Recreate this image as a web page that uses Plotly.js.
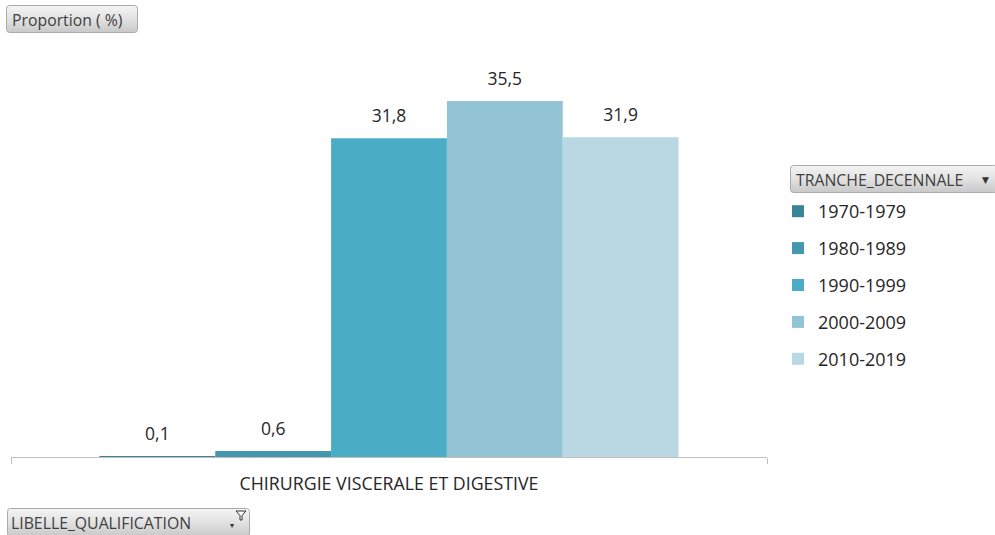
<!DOCTYPE html>
<html>
<head>
<meta charset="utf-8">
<script src="https://cdn.plot.ly/plotly-3.0.1.min.js"></script>
<style>html,body{margin:0;padding:0;background:#fff;}#chart{width:995px;height:535px;}</style>
</head>
<body>
<div id="chart"></div>
<script>
// ---- data ----
const categories = ["CHIRURGIE VISCERALE ET DIGESTIVE"];
const seriesNames = ["1970-1979", "1980-1989", "1990-1999", "2000-2009", "2010-2019"];
const v1970 = [0.1];
const v1980 = [0.6];
const v1990 = [31.8];
const v2000 = [35.5];
const v2010 = [31.9];
const seriesValues = [v1970, v1980, v1990, v2000, v2010];
const seriesColors = ["#3A8499", "#4398AF", "#4BACC6", "#93C4D6", "#B9D8E4"];
const yTitleButton = "Proportion ( %)";
const legendButton = "TRANCHE_DECENNALE";
const axisButton = "LIBELLE_QUALIFICATION";

// ---- layout geometry ----
const W = 995, H = 535, ML = 11, MR = 228, MT = 56, MB = 78;
const PW = W - ML - MR, PH = H - MT - MB;
const px = x => (x - ML) / PW;
const py = y => (H - MB - y) / PH;
const FONT = "Open Sans, Liberation Sans, sans-serif";
const LABEL_GAP = 0.8; // visual spacing between bar top and its value label (axis units)

const barTraces = seriesNames.map((name, i) => ({
  type: "bar",
  name: name,
  x: categories,
  y: seriesValues[i],
  offsetgroup: "s" + i,
  marker: {color: seriesColors[i], line: {width: 0}},
  legendgroup: "g" + i,
  hoverinfo: "skip"
}));
// transparent carriers that place the value labels a little above each bar
const labelTraces = seriesNames.map((name, i) => ({
  type: "bar",
  name: name + " label",
  x: categories,
  base: seriesValues[i],
  y: seriesValues[i].map(() => LABEL_GAP),
  customdata: seriesValues[i],
  offsetgroup: "s" + i,
  marker: {color: "rgba(0,0,0,0)", line: {width: 0}},
  texttemplate: "%{customdata:.1f}",
  textposition: "outside",
  cliponaxis: false,
  constraintext: "none",
  textfont: {family: FONT, size: 17.5, color: "#262626"},
  showlegend: false,
  hoverinfo: "skip"
}));

function buttonSvg(w, h) {
  const svg = `<svg xmlns="http://www.w3.org/2000/svg" width="${w}" height="${h}" viewBox="0 0 ${w} ${h}">
<defs><linearGradient id="g" x1="0" y1="0" x2="0" y2="1">
<stop offset="0" stop-color="#F4F4F4"/><stop offset="0.5" stop-color="#E2E2E2"/><stop offset="1" stop-color="#C8C8C8"/></linearGradient></defs>
<rect x="0.5" y="0.5" width="${w - 1}" height="${h - 1}" rx="3" ry="3" fill="url(#g)" stroke="#ABABAB" stroke-width="1"/></svg>`;
  return "data:image/svg+xml;charset=utf-8," + encodeURIComponent(svg);
}
function buttonImage(x0, y0, x1, y1) {
  return {
    source: buttonSvg(x1 - x0, y1 - y0),
    xref: "paper", yref: "paper",
    x: px(x0), y: py(y0),
    sizex: (x1 - x0) / PW, sizey: (y1 - y0) / PH,
    xanchor: "left", yanchor: "top",
    sizing: "stretch", layer: "above"
  };
}
function buttonText(text, x, y) {
  return {
    text: text, xref: "paper", yref: "paper",
    x: px(x), y: py(y), xanchor: "left", yanchor: "middle",
    showarrow: false, font: {family: FONT, size: 15.8, color: "#404040"}
  };
}

const layout = {
  width: W, height: H,
  margin: {l: ML, r: MR, t: MT, b: MB, pad: 0},
  paper_bgcolor: "#ffffff",
  plot_bgcolor: "#ffffff",
  separators: ", ",
  barmode: "group",
  bargap: 0.234,
  bargroupgap: 0,
  showlegend: true,
  legend: {
    x: px(778), y: py(193), xanchor: "left", yanchor: "top",
    font: {family: FONT, size: 18, color: "#262626"},
    traceorder: "grouped",
    tracegroupgap: 10.5,
    itemclick: false, itemdoubleclick: false,
    bgcolor: "rgba(0,0,0,0)"
  },
  xaxis: {
    type: "category",
    showline: true, linecolor: "#BFBFBF", linewidth: 1,
    ticks: "outside", tickson: "boundaries", ticklen: 6, tickcolor: "#BFBFBF", tickwidth: 1,
    ticklabelstandoff: 11,
    tickfont: {family: FONT, size: 17.8, color: "#262626"},
    showgrid: false, zeroline: false, fixedrange: true
  },
  yaxis: {
    range: [0, 40],
    visible: false, showgrid: false, zeroline: false, fixedrange: true
  },
  images: [
    buttonImage(6, 5, 138, 33),
    buttonImage(790, 165, 998, 193),
    buttonImage(7, 508, 250, 537)
  ],
  annotations: [
    buttonText(yTitleButton, 10, 19.5),
    buttonText(legendButton, 794, 180),
    buttonText(axisButton, 9, 523),
    {text: "▼", xref: "paper", yref: "paper", x: px(985), y: py(180), xanchor: "center", yanchor: "middle",
     showarrow: false, font: {family: "DejaVu Sans", size: 9, color: "#333"}},
    {text: "▾", xref: "paper", yref: "paper", x: px(232), y: py(525), xanchor: "center", yanchor: "middle",
     showarrow: false, font: {family: "DejaVu Sans", size: 8, color: "#333"}}
  ],
  shapes: [
    {type: "path", xref: "paper", yref: "paper",
     path: `M ${px(236)},${py(511)} L ${px(246)},${py(511)} L ${px(242)},${py(515.5)} L ${px(242)},${py(520)} L ${px(240)},${py(520)} L ${px(240)},${py(515.5)} Z`,
     fillcolor: "#ffffff", line: {color: "#333333", width: 1}, layer: "above"}
  ]
};

Plotly.newPlot("chart", barTraces.concat(labelTraces), layout, {displayModeBar: false, responsive: false});
</script>
</body>
</html>
